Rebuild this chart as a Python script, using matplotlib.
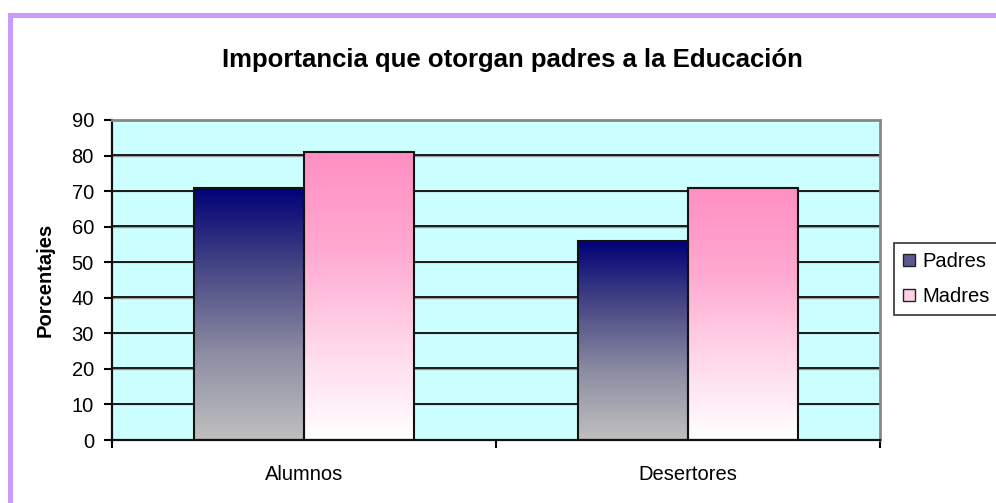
import numpy as np
import matplotlib.pyplot as plt
from matplotlib.colors import LinearSegmentedColormap
from matplotlib.patches import Rectangle, Patch

plt.rcParams['font.family'] = ['Liberation Sans', 'DejaVu Sans']

categorias = ['Alumnos', 'Desertores']
series = ['Padres', 'Madres']
padres = [71, 56]
madres = [81, 71]
yticks = list(range(0, 100, 10))

# degradados de abajo hacia el tope de la barra
grad_padres = LinearSegmentedColormap.from_list('padres', ['#c0c0c0', '#8e8ea4', '#4a4a86', '#000078'])
grad_madres = LinearSegmentedColormap.from_list('madres', ['#ffffff', '#ffd6ea', '#ffa8d0', '#ff8fc2'])

fig = plt.figure(figsize=(9.96, 5.03), dpi=100)
ax = fig.add_axes([112/996, 63/503, 768/996, 320/503])
ax.set_facecolor('#ccffff')

x = np.arange(len(categorias)) + 0.5
w = 0.286

b1 = ax.bar(x - w/2, padres, w, facecolor='none', edgecolor='#111111', linewidth=1.5, zorder=4)
b2 = ax.bar(x + w/2, madres, w, facecolor='none', edgecolor='#111111', linewidth=1.5, zorder=4)

grad = np.linspace(0, 1, 256).reshape(-1, 1)
for bars, cmap in [(b1, grad_padres), (b2, grad_madres)]:
    for r in bars:
        x0, y0 = r.get_x(), r.get_y()
        ax.imshow(grad, cmap=cmap, origin='lower', aspect='auto', interpolation='bilinear',
                  extent=[x0, x0 + r.get_width(), y0, y0 + r.get_height()], zorder=3)

ax.set_xlim(0, 2)
ax.set_ylim(0, 90)
ax.set_yticks(yticks)
ax.set_yticklabels([str(t) for t in yticks], fontsize=14.5)
ax.set_xticks([0, 1, 2])
ax.set_xticklabels([])
ax.set_xticks(x, minor=True)
ax.set_xticklabels(categorias, minor=True, fontsize=14.5)
ax.tick_params(axis='x', which='minor', length=0, pad=18)
ax.tick_params(axis='x', which='major', length=6, width=1.5, direction='out')
ax.tick_params(axis='y', length=6, width=1.5, direction='out', pad=7)

for t in yticks[1:-1]:
    ax.axhline(t, color='#999999', linewidth=1.0, zorder=1.4)
    ax.axhline(t + 0.12, color='#1a1a1a', linewidth=1.4, zorder=1.5)

ax.spines['left'].set_linewidth(1.6)
ax.spines['bottom'].set_linewidth(1.6)
ax.spines['left'].set_color('#111111')
ax.spines['bottom'].set_color('#111111')
ax.spines['top'].set_color('#888888')
ax.spines['right'].set_color('#888888')
ax.spines['top'].set_linewidth(2)
ax.spines['right'].set_linewidth(2)
for s in ax.spines.values():
    s.set_zorder(5)

ax.set_ylabel('Porcentajes', fontsize=14.5, fontweight='bold')
ax.yaxis.set_label_coords(-0.075, 0.5)

fig.text(512/996, 1 - 67/503, 'Importancia que otorgan padres a la Educación',
         ha='center', va='baseline', fontsize=18.5, fontweight='bold')

handles = [Patch(facecolor='#5a5a90', edgecolor='#222222'),
           Patch(facecolor='#ffd0e6', edgecolor='#222222')]
leg = fig.legend(handles, series, loc='upper left', bbox_to_anchor=(894/996, 1 - 243/503),
                 fontsize=14.5, frameon=True, fancybox=False, borderpad=0.45,
                 handlelength=0.6, handleheight=0.6, handletextpad=0.35, labelspacing=0.8,
                 borderaxespad=0)
leg.get_frame().set_edgecolor('#000000')
leg.get_frame().set_linewidth(1.2)

# marco lila del grafico
fig.patches.append(Rectangle((9.5/996, -0.1), 1.2, 1.1 - 14.5/503, transform=fig.transFigure,
                             facecolor='none', edgecolor='#cc99ff', linewidth=3.6, clip_on=False))

fig.savefig('out.png', dpi=100)
